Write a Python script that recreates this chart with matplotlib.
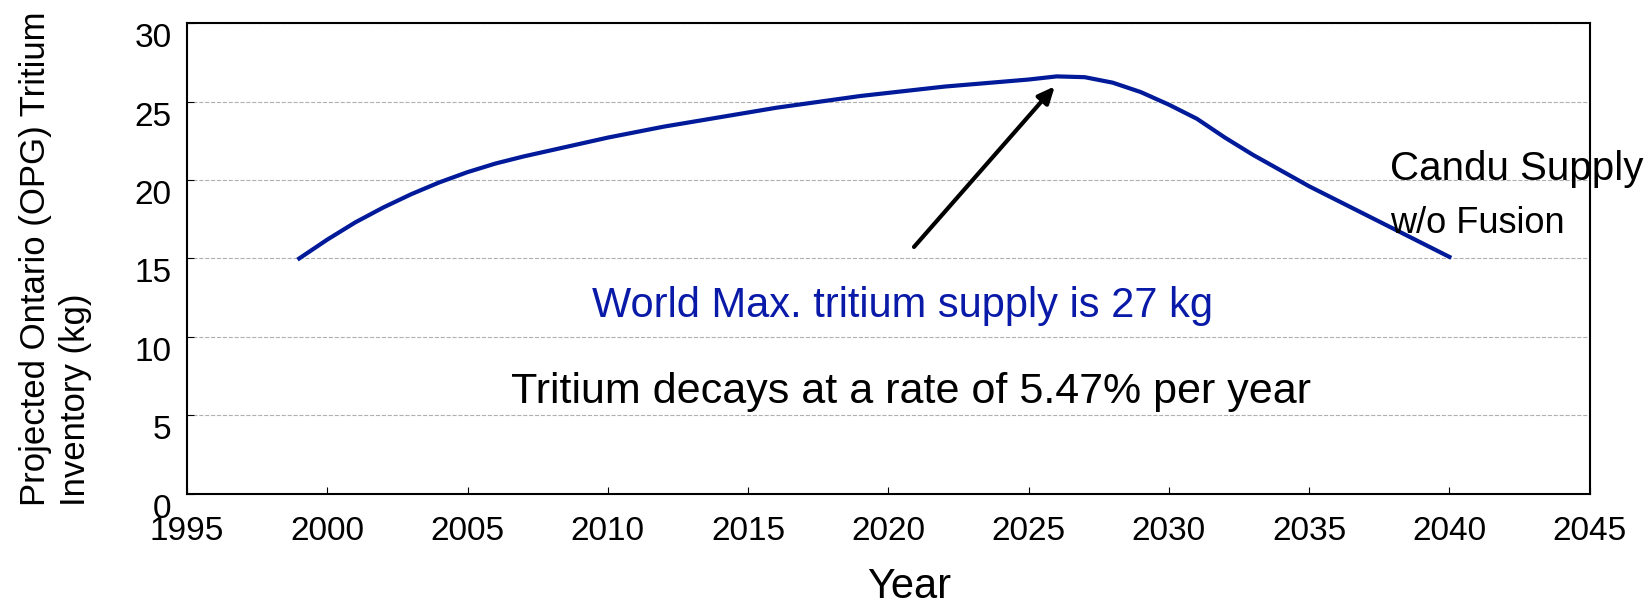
import matplotlib
matplotlib.use('Agg')
import matplotlib.pyplot as plt
import matplotlib.transforms as mtransforms
import numpy as np

plt.rcParams['font.family'] = ['Liberation Sans', 'DejaVu Sans']

# Projected inventory
years = np.arange(1999, 2041)
inventory = [15.0, 16.2, 17.3, 18.25, 19.1, 19.85, 20.5, 21.05, 21.5, 21.9,
             22.3, 22.7, 23.05, 23.4, 23.7, 24.0, 24.3, 24.6, 24.85, 25.1,
             25.35, 25.55, 25.75, 25.95, 26.1, 26.25, 26.4, 26.6, 26.55, 26.2,
             25.6, 24.8, 23.9, 22.7, 21.6, 20.6, 19.6, 18.7, 17.8, 16.9,
             16.0, 15.1]

x_ticks = np.arange(1995, 2046, 5)
y_ticks = np.arange(0, 31, 5)

fig = plt.figure(figsize=(16.49, 6.06), dpi=100)
ax = fig.add_axes([0.1134, 0.185, 0.8506, 0.777])

ax.plot(years, inventory, color='#001a99', linewidth=3)

ax.set_xlim(1995, 2045)
ax.set_ylim(0, 30)
ax.set_xticks(x_ticks)
ax.set_yticks(y_ticks)
ax.tick_params(direction='in', length=5, labelsize=24)
ax.tick_params(axis='x', pad=16)
ax.tick_params(axis='y', pad=11)
ax.yaxis.grid(True, color='#b0b0b0', linestyle='--', linewidth=0.8)
for s in ax.spines.values():
    s.set_linewidth(1.5)

# y tick labels sit a little below their ticks in the original
offset = mtransforms.ScaledTranslation(0, -12 / 100, fig.dpi_scale_trans)
for lab in ax.get_yticklabels():
    lab.set_transform(lab.get_transform() + offset)

ax.set_xlabel('Year', fontsize=30)
ax.xaxis.set_label_coords(0.515, -0.155)
ax.set_ylabel('Projected Ontario (OPG) Tritium\nInventory (kg)', fontsize=25,
              multialignment='left', linespacing=1.3)
ax.yaxis.set_label_coords(-0.0675, 0.5)

# annotations
ax.annotate('', xy=(2026.0, 26.1), xytext=(2020.85, 15.6),
            arrowprops=dict(arrowstyle='-|>,head_length=1.0,head_width=0.45',
                            color='black', lw=3))
ax.text(2020.5, 12.0, 'World Max. tritium supply is 27 kg', color='#0a1aa8',
        fontsize=30, ha='center', va='center')
ax.text(2020.8, 6.5, 'Tritium decays at a rate of 5.47% per year', color='black',
        fontsize=31, ha='center', va='center')
ax.text(2037.9, 20.7, 'Candu Supply', fontsize=29, ha='left', va='center',
        clip_on=False)
ax.text(2037.9, 17.2, 'w/o Fusion', fontsize=26, ha='left', va='center')

fig.savefig('out.png', dpi=100)
